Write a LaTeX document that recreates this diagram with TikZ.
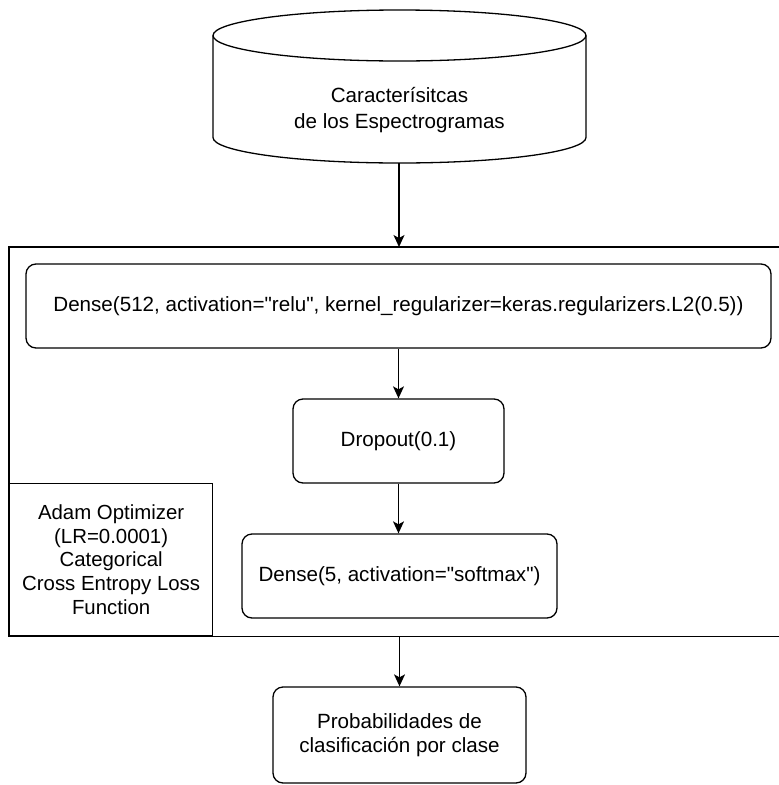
\documentclass[tikz,border=0pt]{standalone}
\usepackage{fontspec}
\setmainfont{Liberation Sans}[Ligatures=TeXOff]
\usetikzlibrary{arrows.meta}

\tikzset{
  every picture/.style={line width=1.3pt},
  layer/.style={draw, rounded corners=10pt, inner sep=0pt, align=center,
    font=\fontsize{20.6}{24}\selectfont},
  plainbox/.style={draw, inner sep=0pt, align=center,
    font=\fontsize{20.4}{23.8}\selectfont},
  flow/.style={-{Stealth[length=12pt,width=11pt,inset=3pt]}},
}

\begin{document}
\begin{tikzpicture}[x=1pt,y=-1pt]
  \useasboundingbox (0,0) rectangle (779,785);

  % database cylinder holding the input features
  \node[inner sep=0pt, minimum width=373pt, minimum height=106pt,
        align=center, font=\fontsize{20.6}{26}\selectfont]
        (feat) at (399.5,110) {Caracterísitcas\\de los Espectrogramas};
  \draw (213,35.5) -- (213,137.5) arc[start angle=180,end angle=360,x radius=186.5pt,y radius=25.5pt]
        -- (586,35.5);
  \draw (399.5,35.5) ellipse[x radius=186.5pt, y radius=25.5pt];
  \coordinate (featbase) at (399,163);

  % model container; its right side lies past the page edge, so only
  % the top, left and bottom sides are stroked
  \node[inner sep=0pt, minimum width=775pt, minimum height=388pt, anchor=north west]
        (model) at (9,247) {};
  \draw (model.north east) -- (model.north west) -- (model.south west) -- (model.south east);

  \node[layer, minimum width=745pt, minimum height=84pt] (dense1) at (398.5,306)
        {Dense(512, activation="relu", kernel\_regularizer=keras.regularizers.L2(0.5))};
  \node[layer, minimum width=211pt, minimum height=84pt] (drop) at (398.5,441)
        {Dropout(0.1)};
  \node[layer, minimum width=315pt, minimum height=84pt] (dense2) at (399.5,576)
        {Dense(5, activation="softmax")};

  % training settings
  \node[plainbox, minimum width=203pt, minimum height=152pt, anchor=north west]
        (opt) at (9,483)
        {Adam Optimizer\\(LR=0.0001)\\Categorical\\Cross Entropy Loss\\Function};

  % output
  \node[layer, minimum width=253pt, minimum height=96pt] (prob) at (399.5,735)
        {Probabilidades de\\clasificación por clase};

  % connectors
  \draw[flow] (featbase) -- (featbase |- model.north);
  \draw[flow] (dense1.south -| drop.north) -- (drop.north);
  \draw[flow] (drop.south) -- (drop.south |- dense2.north);
  \draw[flow] (prob.north |- model.south) -- (prob.north);
\end{tikzpicture}
\end{document}
